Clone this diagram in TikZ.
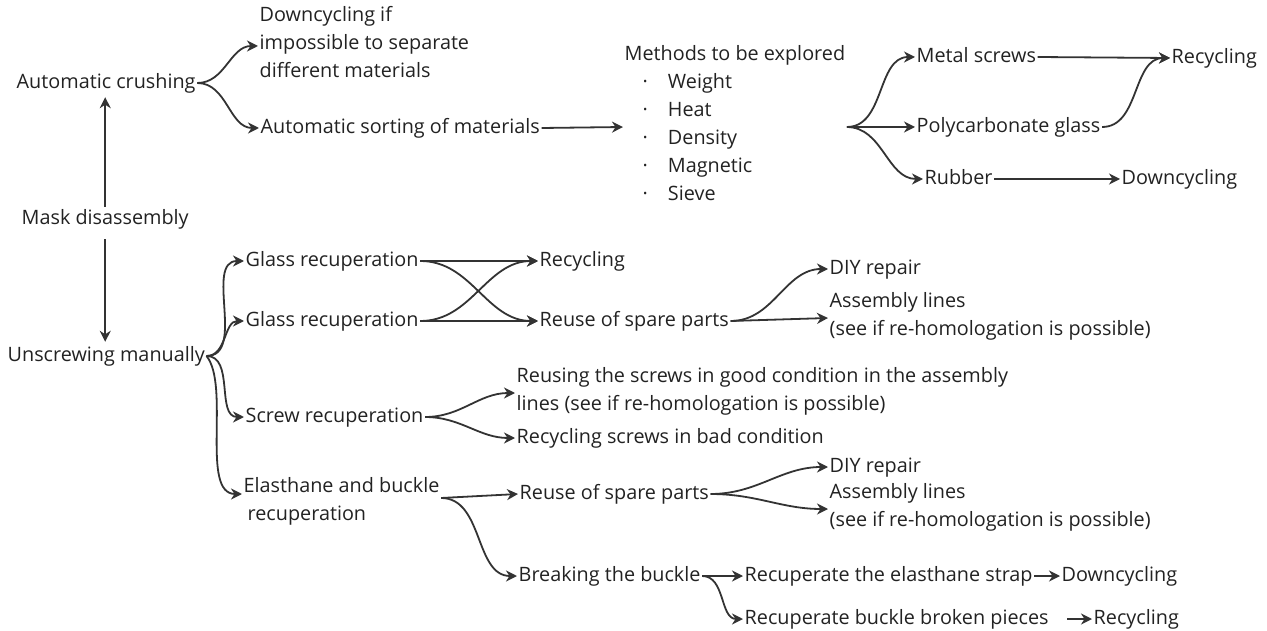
\documentclass[tikz,border=0pt]{standalone}
\usepackage{fontspec}
\setmainfont{Open Sans}
\usetikzlibrary{arrows.meta}
\definecolor{ln}{HTML}{333333}
\definecolor{tx}{HTML}{222222}
\tikzset{
  lbl/.style={font=\fontsize{19.8}{28}\selectfont, text=tx, inner ysep=0pt, inner xsep=1.5pt, anchor=west, align=left,
    execute at begin node=\strut, execute at end node=\strut},
  arr/.style={draw=ln, line width=1.8pt, -{Stealth[length=11pt,width=11pt,inset=3.5pt]}},
}
\begin{document}
\begin{tikzpicture}[x=1pt,y=-1pt]
\useasboundingbox (0,0) rectangle (1267,631);
% nodes
\node[lbl] (crush) at (15,83) {Automatic crushing};
\node[lbl] (down3) at (258,46) {Downcycling if\\impossible to separate\\different materials};
\node[lbl] (sort) at (259,128) {Automatic sorting of materials};
\node[lbl] (meth) at (623,127) {Methods to be explored\\
\hspace*{18pt}·\hspace*{20pt}Weight\\
\hspace*{18pt}·\hspace*{20pt}Heat\\
\hspace*{18pt}·\hspace*{20pt}Density\\
\hspace*{18pt}·\hspace*{20pt}Magnetic\\
\hspace*{18pt}·\hspace*{20pt}Sieve};
\node[lbl] (metal) at (915,57) {Metal screws};
\node[lbl] (recy1) at (1170,58) {Recycling};
\node[lbl] (poly) at (915,127) {Polycarbonate glass};
\node[lbl] (rubber) at (923,179) {Rubber};
\node[lbl] (down1) at (1120,179) {Downcycling};
\node[lbl] (mask) at (20,219) {Mask disassembly};
\node[lbl] (unscr) at (6,356) {Unscrewing manually};
\node[lbl] (g1) at (244,261) {Glass recuperation};
\node[lbl] (g2) at (244,321) {Glass recuperation};
\node[lbl] (recy2) at (538,261) {Recycling};
\node[lbl] (reuse1) at (538,321) {Reuse of spare parts};
\node[lbl] (diy1) at (828,269) {DIY repair};
\node[lbl] (asm1) at (828,318) {Assembly lines\\(see if re-homologation is possible)};
\node[lbl] (screw) at (244,417) {Screw recuperation};
\node[lbl] (reusing) at (515,393) {Reusing the screws in good condition in the assembly\\lines (see if re-homologation is possible)};
\node[lbl] (recscrew) at (515,438) {Recycling screws in bad condition};
\node[lbl] (elast) at (242,503) {Elasthane and buckle\\\hspace*{4pt}recuperation};
\node[lbl] (reuse2) at (518,494) {Reuse of spare parts};
\node[lbl] (diy2) at (828,467) {DIY repair};
\node[lbl] (asm2) at (828,509) {Assembly lines\\(see if re-homologation is possible)};
\node[lbl] (brk) at (517,576) {Breaking the buckle};
\node[lbl] (strap) at (743,576) {Recuperate the elasthane strap};
\node[lbl] (down2) at (1060,576) {Downcycling};
\node[lbl] (pieces) at (743,619) {Recuperate buckle broken pieces};
\node[lbl] (recy3) at (1092,619) {Recycling};
% connectors
\draw[arr] (crush.east) to[out=0,in=180] (down3.west);
\draw[arr] (crush.east) to[out=0,in=180] (sort.west);
\draw[arr] (sort.east) -- (meth.west);
\draw[arr] (meth.east) to[out=0,in=180] (metal.west);
\draw[arr] (meth.east) -- (poly.west);
\draw[arr] (meth.east) to[out=0,in=180] (rubber.west);
\draw[arr] (metal.east) -- (recy1.west);
\draw[arr] (poly.east) to[out=0,in=180] (recy1.west);
\draw[arr] (rubber.east) -- (down1.west);
\draw[arr] ([yshift=-2pt]mask.north) -- (mask.north |- crush.south);
\draw[arr] ([yshift=-6pt]mask.south) -- (mask.south |- unscr.north);
\draw[arr] (unscr.east) to[out=0,in=180] (g1.west);
\draw[arr] (unscr.east) to[out=0,in=180] (g2.west);
\draw[arr] (unscr.east) to[out=0,in=180] (screw.west);
\draw[arr] (unscr.east) .. controls +(24,30) and +(-42,0) .. ([yshift=9pt]elast.west);
\draw[arr] (g1.east) -- (recy2.west);
\draw[arr] (g1.east) to[out=0,in=180] (reuse1.west);
\draw[arr] (g2.east) to[out=0,in=180] (recy2.west);
\draw[arr] (g2.east) -- (reuse1.west);
\draw[arr] (reuse1.east) to[out=0,in=180] (diy1.west);
\draw[arr] (reuse1.east) -- (asm1.west);
\draw[arr] (screw.east) to[out=0,in=180] (reusing.west);
\draw[arr] (screw.east) to[out=0,in=180] (recscrew.west);
\draw[arr] ([yshift=5pt]elast.east) -- (reuse2.west);
\draw[arr] ([yshift=5pt]elast.east) to[out=0,in=180] (brk.west);
\draw[arr] (reuse2.east) to[out=0,in=180] (diy2.west);
\draw[arr] (reuse2.east) to[out=0,in=180] (asm2.west);
\draw[arr] (brk.east) -- (strap.west);
\draw[arr] (brk.east) to[out=0,in=180] (pieces.west);
\draw[arr] (strap.east) -- (down2.west);
\draw[arr, shorten <=17pt] (pieces.east) -- (recy3.west);
\end{tikzpicture}
\end{document}
